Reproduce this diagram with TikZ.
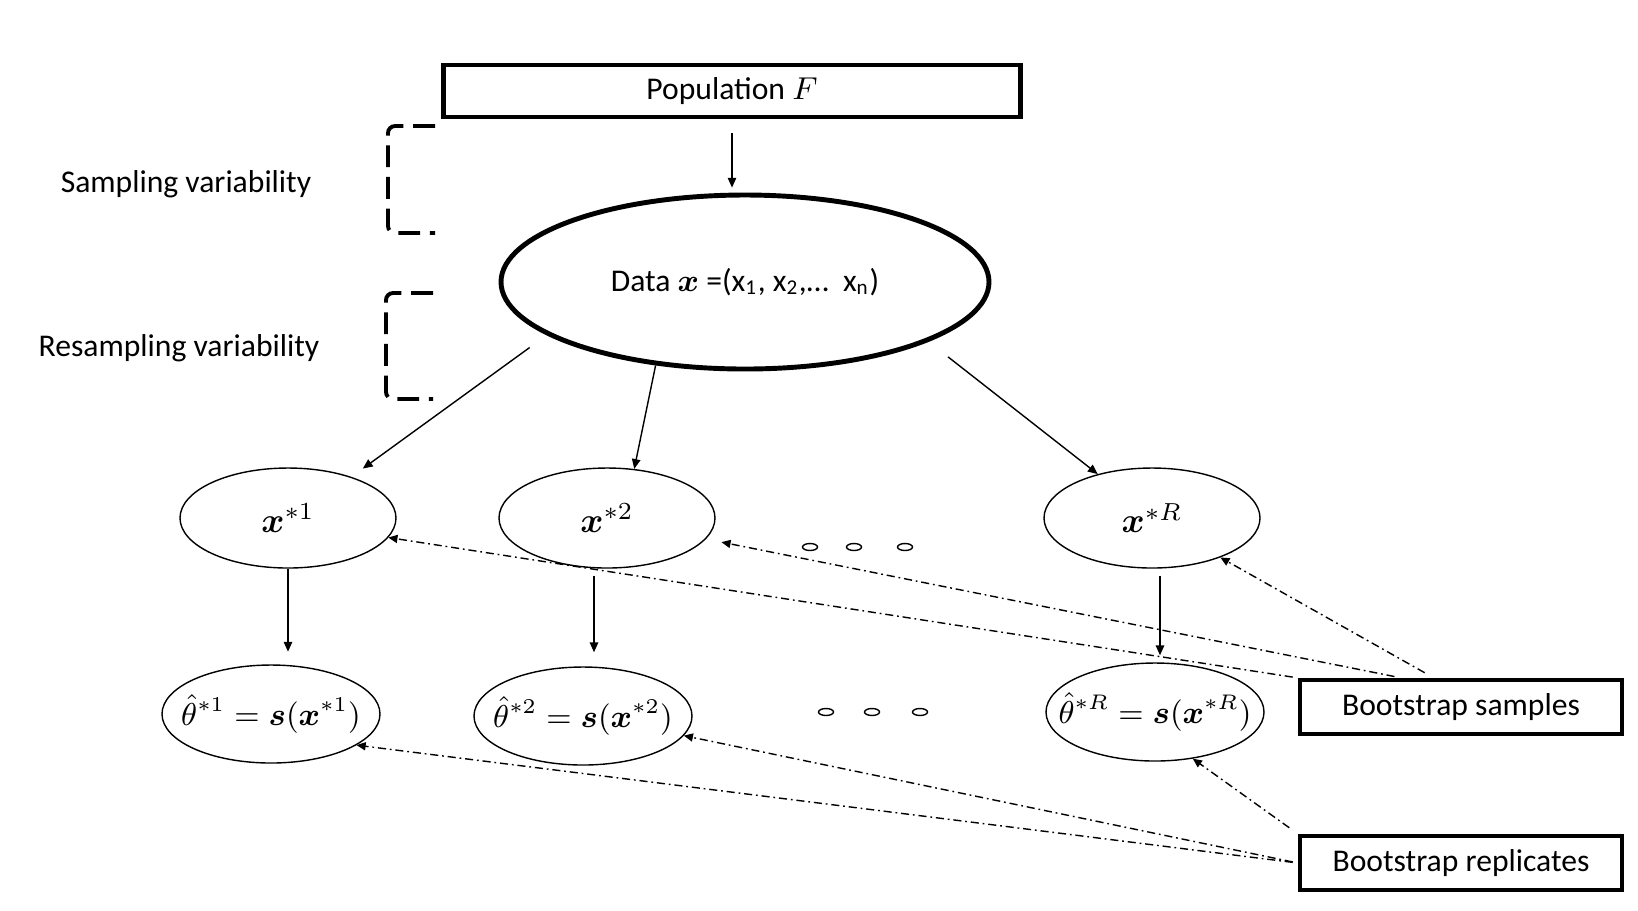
\documentclass[tikz,border=0pt]{standalone}
\usepackage{amsmath}
\usepackage{fontspec}
\setmainfont{Carlito}
\usetikzlibrary{arrows.meta,shapes.geometric}

\begin{document}
\begin{tikzpicture}[x=0.1mm,y=-0.1mm,
    font=\fontsize{9}{11}\selectfont,
    thinline/.style={line width=0.4pt},
    arr/.style={thinline,-{Triangle[length=2.8pt,width=2.4pt]}},
    dasharr/.style={thinline,dash pattern=on 2.3pt off 1.1pt on 0.5pt off 1.1pt,-{Triangle[length=2.6pt,width=2.3pt]}},
    popbox/.style={draw,line width=1.3pt,minimum width=57.7mm,minimum height=5.2mm,inner sep=0pt},
    tagbox/.style={draw,line width=1.2pt,minimum width=32.2mm,minimum height=5.4mm,inner sep=0pt},
    sample/.style={draw,thinline,ellipse,minimum width=21.6mm,minimum height=10mm,inner sep=0pt,font=\fontsize{10}{12}\selectfont},
    replicate/.style={sample,inner xsep=-2.4mm,minimum width=21.8mm,minimum height=9.8mm,font=\fontsize{8.6}{10}\selectfont},
    smalldot/.style={draw,thinline,ellipse,minimum width=1.5mm,minimum height=0.7mm,inner sep=0pt},
    bracket/.style={line width=1.1pt,dash pattern=on 6.2pt off 2.8pt,rounded corners=2pt}]

    \useasboundingbox (0,0) rectangle (1638,910);

    % Population and data
    \node[popbox] (pop) at (732,91) {Population $F$};
    \node[draw,ellipse,line width=1.4pt,minimum width=48.8mm,minimum height=17.4mm,inner sep=0pt] (data) at (745,282)
        {Data $\boldsymbol{x}$ =(x\textsubscript{1}, x\textsubscript{2},…\ \ x\textsubscript{n})};
    \draw[arr,shorten <=4pt,shorten >=1.4pt] (pop.south) -- (pop.south |- data.north);

    % Variability labels and brackets
    \node (sampvar) at (186,184) {Sampling variability};
    \node (resampvar) at (179,348) {Resampling variability};
    \draw[bracket] (435,126) -- (388,126) -- (388,233) -- (435,233);
    \draw[bracket] (433,293) -- (386,293) -- (386,399) -- (433,399);

    % Bootstrap samples
    \node[sample] (xs1) at (288,518) {$\boldsymbol{x}^{*1}$};
    \node[sample] (xs2) at (607,518) {$\boldsymbol{x}^{*2}$};
    \node[sample] (xsR) at (1152,518) {$\boldsymbol{x}^{*R}$};
    \foreach \x in {810,854,905}
        \node[smalldot] (sdot\x) at (\x,547) {};

    \draw[arr,shorten <=6pt,shorten >=4pt] (data.195) -- (xs1.33);
    \draw[arr] (data.223) -- (xs2.61);
    \draw[arr,shorten <=7pt] (data.342) -- (xsR.141);

    % Bootstrap replicates
    \node[replicate] (th1) at (271,714) {$\hat{\theta}^{*1}=\boldsymbol{s}(\boldsymbol{x}^{*1})$};
    \node[replicate] (th2) at (583,716) {$\hat{\theta}^{*2}=\boldsymbol{s}(\boldsymbol{x}^{*2})$};
    \node[replicate] (thR) at (1155,712) {$\hat{\theta}^{*R}=\boldsymbol{s}(\boldsymbol{x}^{*R})$};
    \foreach \x in {826,872,920}
        \node[smalldot] (rdot\x) at (\x,712) {};

    \draw[arr,shorten >=3.6pt] (xs1.south) -- (xs1.south |- th1.north);
    \draw[arr,shorten <=2pt,shorten >=4pt] ([xshift=-1.3mm]xs2.south) -- ([xshift=-1.3mm]xs2.south |- th2.north);
    \draw[arr,shorten <=2pt,shorten >=2pt] ([xshift=0.8mm]xsR.south) -- ([xshift=0.8mm]xsR.south |- thR.north);

    % Tag boxes
    \node[tagbox] (bs) at (1461,707) {Bootstrap samples};
    \node[tagbox] (br) at (1461,863) {Bootstrap replicates};

    \draw[dasharr,shorten <=3pt] (bs.133) -- (xsR.-30);
    \draw[dasharr,shorten <=2pt,shorten >=4.5pt] (bs.154) -- (xs2.-12);
    \draw[dasharr,shorten <=1.5pt] (bs.north west) -- (xs1.-11);

    \draw[dasharr,shorten <=3pt] (br.north west) -- (thR.-51);
    \draw[dasharr,shorten <=1.5pt] (br.west) -- (th2.-11);
    \draw[dasharr,shorten <=1.5pt] (br.west) -- (th1.-20);
\end{tikzpicture}
\end{document}
